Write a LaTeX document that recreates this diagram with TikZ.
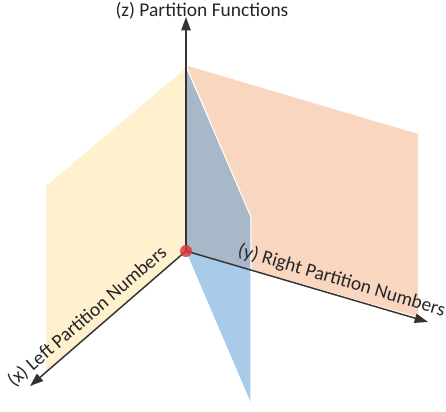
\documentclass[tikz,border=0pt]{standalone}
\usepackage{fontspec}
\setmainfont{Carlito}
\usepackage{tikz}
\usetikzlibrary{arrows.meta}
\definecolor{planeyellow}{HTML}{FFF0CE}
\definecolor{planepeach}{HTML}{F8D6BF}
\definecolor{planeblue}{HTML}{A9CBEA}
\definecolor{planeslate}{HTML}{A9B8C9}
\definecolor{origred}{HTML}{D63A3A}
\tikzstyle{axis}    = [-{Triangle[length=10pt, width=7pt]}, line width=1.1pt,
                       draw=black!80]
\tikzstyle{axlabel} = [font=\fontsize{14.6}{17}\selectfont, text=black!85]
\tikzstyle{origin}  = [circle, fill=origred, fill opacity=0.85, inner sep=0pt,
                       minimum size=9pt]

\begin{document}
\begin{tikzpicture}[x=0.75pt, y=-0.75pt]
  \useasboundingbox (0,0) rectangle (446,411);

  \coordinate (O)    at (186,251);
  \coordinate (xend) at (30,386);
  \coordinate (yend) at (428,322);
  \coordinate (zend) at (186,17);

  % planes
  \fill[planeyellow] (186,68) -- (46,186) -- (46,372) -- (O) -- cycle;
  \fill[planepeach]  (188,66) -- (418,134) -- (418,317) -- (O) -- cycle;
  \fill[planeblue]   (O) -- (251,270) -- (251,403) -- cycle;
  \fill[planeslate]  (186,68) -- (251,217) -- (251,270) -- (O) -- cycle;
  \draw[white, line width=0.8pt] (187,68) -- (251,217) -- (251,403);

  % axes
  \draw[axis] (O) -- (zend);
  \draw[axis] (O) -- (xend)
    node[axlabel, pos=0.57, sloped, above=1pt] (xlab) {(x) Left Partition Numbers};
  \draw[axis] (O) -- (yend)
    node[axlabel, pos=0.625, sloped, above=1pt] (ylab) {(y) Right Partition Numbers};
  \node[axlabel] (zlab) at (202,11) {(z) Partition Functions};

  \node[origin] (orig) at (O) {};
\end{tikzpicture}
\end{document}
